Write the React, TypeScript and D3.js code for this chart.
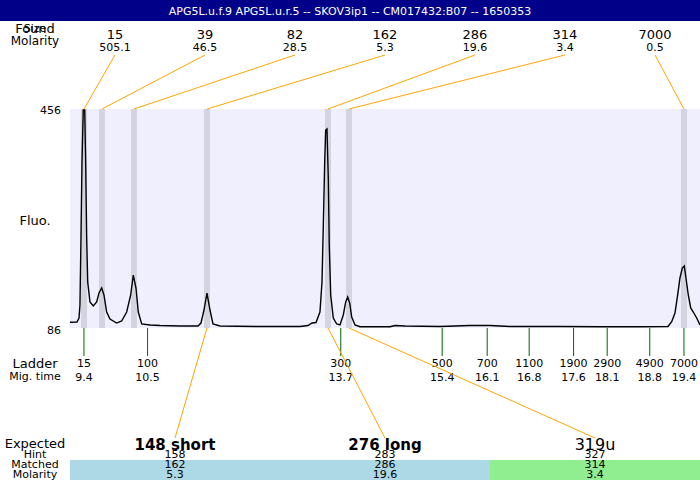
import React from "react";
import * as d3 from "d3";

const title = "APG5L.u.f.9  APG5L.u.r.5 -- SKOV3ip1 -- CM017432:B07 -- 1650353";

// Found peaks
const foundSizes = [15, 39, 82, 162, 286, 314, 7000];
const foundMolarity = [505.1, 46.5, 28.5, 5.3, 19.6, 3.4, 0.5];
const foundTimes = [9.4, 9.7, 10.233, 11.45, 13.467, 13.817, 19.4];

// Ladder
const ladderSizes = [15, 100, 300, 500, 700, 1100, 1900, 2900, 4900, 7000];
const ladderTimes = [9.4, 10.46, 13.68, 15.37, 16.12, 16.82, 17.56, 18.12, 18.83, 19.4];

// Expected products
const expectedLabels = ["148 short", "276 long", "319u"];
const expectedStatus = ["named", "named", "unnamed"];
const hintSizes = [158, 283, 327];
const matchedSizes = [162, 286, 314];
const matchedMolarity = [5.3, 19.6, 3.4];
const matchedPeakIndex = [3, 4, 5];
const matchKind = ["blue", "blue", "green"];

// Fluorescence trace (migration time, fluorescence)
const traceTime = [
  9.167, 9.283, 9.317, 9.333, 9.35, 9.367, 9.388, 9.412, 9.428, 9.445, 9.462, 9.5, 9.555, 9.612,
  9.65, 9.695, 9.733, 9.778, 9.833, 9.945, 10.028, 10.112, 10.178, 10.222, 10.267, 10.305, 10.362,
  10.5, 10.667, 11.0, 11.3, 11.35, 11.4, 11.45, 11.5, 11.55, 11.667, 12.333, 13.0, 13.133, 13.2,
  13.267, 13.333, 13.367, 13.388, 13.412, 13.428, 13.45, 13.472, 13.488, 13.512, 13.555, 13.612,
  13.667, 13.722, 13.762, 13.795, 13.828, 13.862, 13.917, 14.0, 14.5, 14.583, 14.75, 15.333,
  15.833, 16.167, 16.5, 17.333, 18.0, 18.667, 19.133, 19.195, 19.25, 19.295, 19.333, 19.372,
  19.405, 19.433, 19.472, 19.512, 19.555, 19.612, 19.667,
];
const traceFluo = [
  95.6, 96.1, 102.9, 124.9, 238.1, 366.5, 454.3, 454.3, 366.5, 238.1, 163.8, 130.0, 123.2, 130.0,
  145.1, 153.6, 141.8, 113.0, 101.2, 94.4, 97.8, 113.0, 141.8, 175.5, 153.6, 113.0, 92.8,
  91.1, 90.2, 89.4, 89.4, 94.4, 116.4, 145.1, 116.4, 92.8, 89.4, 88.5, 88.5, 90.2, 94.4,
  95.3, 113.0, 163.7, 255.0, 366.5, 420.5, 422.2, 339.4, 226.2, 141.8, 102.9, 92.8,
  91.1, 108.0, 130.0, 138.4, 128.2, 104.6, 91.1, 88.2, 88.2, 90.2, 89.4, 88.5,
  90.2, 90.2, 88.5, 88.5, 88.2, 88.2, 88.5, 96.6, 111.3, 141.8, 170.5, 187.4,
  190.7, 170.5, 141.8, 119.8, 113.0, 102.9, 91.1,
];

const timeDomain = [9.167, 19.667];
const fluoDomain = [86, 456];

const W = 700;
const H = 480;
const plotL = 70;
const plotR = 700;
const plotT = 109;
const plotB = 328;
const labelX = 35;
const font = "DejaVu Sans, Verdana, sans-serif";

export default function App() {
  const x = d3.scaleLinear().domain(timeDomain).range([plotL, plotR]);
  const y = d3.scaleLinear().domain(fluoDomain).range([plotB, plotT]);
  const foundSlot = d3.scaleBand<number>().domain(d3.range(foundSizes.length)).range([plotL, plotR]);
  const expSlot = d3.scaleBand<number>().domain(d3.range(expectedLabels.length)).range([plotL, plotR]);

  const pts: [number, number][] = traceTime.map((t, i) => [t, traceFluo[i]]);
  const line = d3
    .line<[number, number]>()
    .x((d) => x(d[0]))
    .y((d) => y(d[1]))
    .curve(d3.curveLinear);

  const bandW = x(timeDomain[0] + 0.1) - x(timeDomain[0]);
  const colorFor = (k: string) => (k === "green" ? "#90ee90" : "#add8e6");

  return (
    <svg
      width={W}
      height={H}
      style={{ position: "absolute", left: 0, top: 0, display: "block" }}
      fontFamily={font}
    >
      <rect x={0} y={0} width={W} height={H} fill="#ffffff" />
      {/* header */}
      <rect x={0} y={0} width={W} height={21} fill="#000088" />
      <text x={W / 2} y={15} fill="#ffffff" fontSize={11} textAnchor="middle">
        {title}
      </text>

      {/* left labels top */}
      <text x={labelX} y={32} fontSize={11} textAnchor="middle">Size</text>
      <text x={labelX} y={33} fontSize={13} textAnchor="middle">Found</text>
      <text x={labelX} y={45} fontSize={12} textAnchor="middle">Molarity</text>

      {/* plot background */}
      <rect x={plotL} y={plotT} width={plotR - plotL} height={plotB - plotT} fill="#efeffd" />
      {foundTimes.map((t, i) => (
        <rect key={"b" + i} x={x(t) - bandW / 2} y={plotT} width={bandW} height={plotB - plotT} fill="#d4d4e1" />
      ))}

      {/* found labels */}
      {foundSizes.map((s, i) => {
        const cx = (foundSlot(i) as number) + foundSlot.bandwidth() / 2;
        return (
          <g key={"f" + i}>
            <text x={cx} y={39} fontSize={13} textAnchor="middle">{s}</text>
            <text x={cx} y={51} fontSize={11} textAnchor="middle">{foundMolarity[i]}</text>
            <line x1={cx} y1={55} x2={x(foundTimes[i])} y2={plotT} stroke="#ffa500" strokeWidth={1} />
          </g>
        );
      })}

      {/* y axis labels */}
      <text x={61} y={114} fontSize={11} textAnchor="end">{fluoDomain[1]}</text>
      <text x={61} y={334} fontSize={11} textAnchor="end">{fluoDomain[0]}</text>
      <text x={labelX} y={225} fontSize={13} textAnchor="middle">Fluo.</text>

      {/* trace */}
      <path d={line(pts) || ""} fill="none" stroke="#000000" strokeWidth={1.4} />

      {/* ladder */}
      <text x={labelX} y={368} fontSize={13} textAnchor="middle">Ladder</text>
      <text x={labelX} y={380} fontSize={11} textAnchor="middle">Mig. time</text>
      {ladderSizes.map((s, i) => {
        const lx = x(ladderTimes[i]);
        return (
          <g key={"l" + i}>
            <line x1={lx} y1={plotB} x2={lx} y2={356} stroke="#006400" strokeWidth={1} />
            <text x={lx} y={367} fontSize={11} textAnchor="middle">{s}</text>
            <text x={lx} y={381} fontSize={11} textAnchor="middle">{ladderTimes[i].toFixed(1)}</text>
          </g>
        );
      })}

      {/* expected section */}
      <text x={labelX} y={448} fontSize={13} textAnchor="middle">Expected</text>
      <text x={labelX} y={458} fontSize={11} textAnchor="middle">Hint</text>
      <text x={labelX} y={468} fontSize={11} textAnchor="middle">Matched</text>
      <text x={labelX} y={478} fontSize={11} textAnchor="middle">Molarity</text>
      {expectedLabels.map((lab, i) => {
        const sx = expSlot(i) as number;
        const cx = sx + expSlot.bandwidth() / 2;
        const named = expectedStatus[i] === "named";
        const pk = matchedPeakIndex[i];
        return (
          <g key={"e" + i}>
            <rect x={sx} y={460} width={expSlot.bandwidth()} height={20} fill={colorFor(matchKind[i])} />
            <line x1={x(foundTimes[pk])} y1={plotB} x2={cx} y2={438} stroke="#ffa500" strokeWidth={1} />
            <text x={cx} y={450} fontSize={named ? 15 : 16} fontWeight={named ? "bold" : "normal"} textAnchor="middle">
              {lab}
            </text>
            <text x={cx} y={458} fontSize={11} textAnchor="middle">{hintSizes[i]}</text>
            <text x={cx} y={468} fontSize={11} textAnchor="middle">{matchedSizes[i]}</text>
            <text x={cx} y={478} fontSize={11} textAnchor="middle">{matchedMolarity[i]}</text>
          </g>
        );
      })}
    </svg>
  );
}
